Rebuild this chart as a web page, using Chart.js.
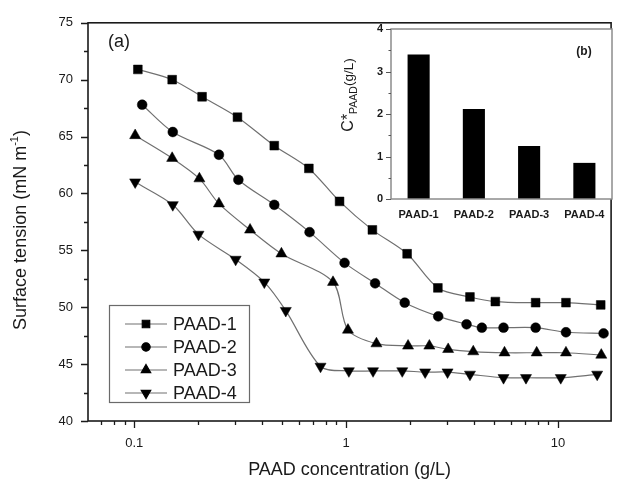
<!DOCTYPE html>
<html><head><meta charset="utf-8">
<script src="https://cdn.jsdelivr.net/npm/chart.js@4/dist/chart.umd.min.js"></script>
<style>
html,body{margin:0;padding:0;background:#fff;}
#wrap{position:relative;width:618px;height:481px;overflow:hidden;}
#main{position:absolute;left:0;top:0;}
#inset{position:absolute;left:330px;top:0;}
</style></head><body>
<div id="wrap"><canvas id="main" width="618" height="481"></canvas><canvas id="inset" width="288" height="240"></canvas></div>
<script>
// ---------- data ----------
const seriesNames = ['PAAD-1', 'PAAD-2', 'PAAD-3', 'PAAD-4'];
const conc1 = [0.104, 0.151, 0.209, 0.307, 0.458, 0.667, 0.931, 1.33, 1.94, 2.71, 3.84, 5.06, 7.84, 10.9, 15.9];
const tension1 = [70.9, 70.0, 68.5, 66.7, 64.2, 62.2, 59.3, 56.8, 54.7, 51.7, 50.9, 50.5, 50.4, 50.4, 50.2];
const conc2 = [0.109, 0.152, 0.251, 0.310, 0.458, 0.672, 0.983, 1.37, 1.89, 2.72, 3.70, 4.37, 5.53, 7.84, 10.9, 16.4];
const tension2 = [67.8, 65.4, 63.4, 61.2, 59.0, 56.6, 53.9, 52.1, 50.4, 49.2, 48.5, 48.2, 48.2, 48.2, 47.8, 47.7];
const conc3 = [0.101, 0.151, 0.203, 0.251, 0.352, 0.495, 0.867, 1.02, 1.39, 1.96, 2.47, 3.03, 3.98, 5.59, 7.93, 10.9, 16.0];
const tension3 = [65.1, 63.1, 61.3, 59.1, 56.8, 54.7, 52.2, 48.0, 46.8, 46.6, 46.6, 46.3, 46.1, 46.0, 46.0, 46.0, 45.8];
const conc4 = [0.101, 0.152, 0.201, 0.301, 0.411, 0.519, 0.757, 1.03, 1.34, 1.84, 2.36, 3.01, 3.84, 5.53, 7.06, 10.3, 15.3];
const tension4 = [61.0, 59.0, 56.4, 54.2, 52.2, 49.7, 44.8, 44.4, 44.4, 44.4, 44.3, 44.3, 44.1, 43.8, 43.8, 43.8, 44.1];

const xMajorTicks = [0.1, 1, 10];
const xMinorTicks = [0.07, 0.08, 0.09, 0.2, 0.3, 0.4, 0.5, 0.6, 0.7, 0.8, 0.9, 2, 3, 4, 5, 6, 7, 8, 9];
const yMajorTicks = [40, 45, 50, 55, 60, 65, 70, 75];
const yMinorTicks = [42.5, 47.5, 52.5, 57.5, 62.5, 67.5, 72.5];

const insetCategories = ['PAAD-1', 'PAAD-2', 'PAAD-3', 'PAAD-4'];
const insetValues = [3.40, 2.12, 1.25, 0.85];
const insetMajorTicks = [0, 1, 2, 3, 4];
const insetMinorTicks = [0.5, 1.5, 2.5, 3.5];

// ---------- styles ----------
const FONT = "'Liberation Sans', Arial, sans-serif";
Chart.defaults.font.family = FONT;
Chart.defaults.color = '#1a1a1a';
Chart.defaults.animation = false;

const styles = [
  {pointStyle: 'rect', radius: 6.2, rotation: 0},
  {pointStyle: 'circle', radius: 4.9, rotation: 0},
  {pointStyle: 'triangle', radius: 6.4, rotation: 0},
  {pointStyle: 'triangle', radius: 6.4, rotation: 180}
];
const concs = [conc1, conc2, conc3, conc4];
const tensions = [tension1, tension2, tension3, tension4];

const datasets = seriesNames.map((name, i) => ({
  label: name,
  data: concs[i].map((c, k) => ({x: c, y: tensions[i][k]})),
  borderColor: '#707070',
  borderWidth: 1.2,
  backgroundColor: '#000',
  pointBackgroundColor: '#000',
  pointBorderColor: '#000',
  pointBorderWidth: 0.5,
  pointStyle: styles[i].pointStyle,
  pointRadius: styles[i].radius,
  pointRotation: styles[i].rotation,
  tension: 0.3,
  fill: false
}));

const mainDecor = {
  id: 'mainDecor',
  afterDraw(chart) {
    const ctx = chart.ctx;
    const a = chart.chartArea;
    const xs = chart.scales.x, ys = chart.scales.y;
    ctx.save();
    // frame
    ctx.strokeStyle = '#1a1a1a';
    ctx.lineWidth = 1.6;
    ctx.strokeRect(a.left, a.top, a.right - a.left, a.bottom - a.top);
    // ticks
    ctx.lineWidth = 1.3;
    ctx.beginPath();
    xMajorTicks.forEach(v => { const p = Math.round(xs.getPixelForValue(v)) + 0.5; ctx.moveTo(p, a.bottom); ctx.lineTo(p, a.bottom + 7); });
    xMinorTicks.forEach(v => { const p = Math.round(xs.getPixelForValue(v)) + 0.5; ctx.moveTo(p, a.bottom); ctx.lineTo(p, a.bottom + 4); });
    yMajorTicks.forEach(v => { const p = Math.round(ys.getPixelForValue(v)) + 0.5; ctx.moveTo(a.left, p); ctx.lineTo(a.left - 7, p); });
    yMinorTicks.forEach(v => { const p = Math.round(ys.getPixelForValue(v)) + 0.5; ctx.moveTo(a.left, p); ctx.lineTo(a.left - 4, p); });
    ctx.stroke();

    // y title with superscript
    ctx.fillStyle = '#1a1a1a';
    ctx.translate(21, 230);
    ctx.rotate(-Math.PI / 2);
    ctx.textBaseline = 'middle';
    ctx.textAlign = 'left';
    const big = '18px ' + FONT, small = '11px ' + FONT;
    const p1 = 'Surface tension (mN m', p2 = '-1', p3 = ')';
    ctx.font = big; const w1 = ctx.measureText(p1).width, w3 = ctx.measureText(p3).width;
    ctx.font = small; const w2 = ctx.measureText(p2).width;
    let x = -(w1 + w2 + w3) / 2;
    ctx.font = big; ctx.fillText(p1, x, 0); x += w1;
    ctx.font = small; ctx.fillText(p2, x, -6); x += w2;
    ctx.font = big; ctx.fillText(p3, x, 0);
    ctx.setTransform(1, 0, 0, 1, 0, 0);

    // (a)
    ctx.font = '18px ' + FONT;
    ctx.textBaseline = 'middle';
    ctx.fillText('(a)', 108, 42);

    // legend
    ctx.strokeStyle = '#6a6a6a';
    ctx.lineWidth = 1.2;
    ctx.strokeRect(109.5, 305.5, 140, 97);
    const rows = [324, 347, 370, 393];
    seriesNames.forEach((name, i) => {
      const y = rows[i];
      ctx.strokeStyle = '#707070';
      ctx.lineWidth = 1.2;
      ctx.beginPath(); ctx.moveTo(125, y); ctx.lineTo(167, y); ctx.stroke();
      ctx.fillStyle = '#000'; ctx.strokeStyle = '#000';
      Chart.helpers.drawPoint(ctx, {pointStyle: styles[i].pointStyle, rotation: styles[i].rotation, radius: styles[i].radius * 0.85, borderWidth: 0.5}, 146, y);
      ctx.fillStyle = '#1a1a1a';
      ctx.font = '18px ' + FONT;
      ctx.textBaseline = 'middle';
      ctx.fillText(name, 173, y + 1);
    });
    ctx.restore();
  }
};

new Chart(document.getElementById('main'), {
  type: 'line',
  data: {datasets},
  plugins: [mainDecor],
  options: {
    responsive: false,
    layout: {padding: {left: 0, right: 1, top: 19, bottom: 0}},
    plugins: {legend: {display: false}, tooltip: {enabled: false}},
    scales: {
      x: {
        type: 'logarithmic',
        min: 0.0605, max: 17.8,
        afterFit: s => { s.height = 60; },
        afterBuildTicks: s => { s.ticks = xMajorTicks.map(v => ({value: v})); },
        grid: {display: false, drawTicks: false},
        border: {display: false},
        ticks: {font: {size: 13}, color: '#1a1a1a', padding: 15, maxRotation: 0, autoSkip: false,
          callback: v => String(v)},
        title: {display: true, text: 'PAAD concentration (g/L)', font: {size: 18}, color: '#1a1a1a', padding: {top: 2, bottom: 0}}
      },
      y: {
        type: 'linear',
        min: 40, max: 75,
        afterFit: s => { s.width = 88; },
        afterBuildTicks: s => { s.ticks = yMajorTicks.map(v => ({value: v})); },
        grid: {display: false, drawTicks: false},
        border: {display: false},
        ticks: {font: {size: 13}, color: '#1a1a1a', padding: 15}
      }
    }
  }
});

// ---------- inset ----------
const insetDecor = {
  id: 'insetDecor',
  beforeDraw(chart) {
    const ctx = chart.ctx, a = chart.chartArea;
    ctx.save();
    ctx.fillStyle = '#fff';
    ctx.fillRect(a.left, a.top, a.right - a.left, a.bottom - a.top);
    ctx.restore();
  },
  afterDraw(chart) {
    const ctx = chart.ctx, a = chart.chartArea, ys = chart.scales.y;
    ctx.save();
    ctx.strokeStyle = '#8c8c8c';
    ctx.lineWidth = 1.5;
    ctx.strokeRect(a.left, a.top, a.right - a.left, a.bottom - a.top);
    ctx.lineWidth = 1;
    ctx.strokeStyle = '#555';
    ctx.beginPath();
    insetMajorTicks.forEach(v => { const p = Math.round(ys.getPixelForValue(v)) + 0.5; ctx.moveTo(a.left, p); ctx.lineTo(a.left - 5, p); });
    insetMinorTicks.forEach(v => { const p = Math.round(ys.getPixelForValue(v)) + 0.5; ctx.moveTo(a.left, p); ctx.lineTo(a.left - 2.5, p); });
    ctx.stroke();
    // (b)
    ctx.fillStyle = '#1a1a1a';
    ctx.font = 'bold 12px ' + FONT;
    ctx.textBaseline = 'middle';
    ctx.textAlign = 'center';
    ctx.fillText('(b)', 584 - 330, 52);
    // y title C*PAAD(g/L)
    ctx.translate(353 - 330, 95);
    ctx.rotate(-Math.PI / 2);
    ctx.textAlign = 'left';
    ctx.textBaseline = 'alphabetic';
    const parts = [['C*', '16px ' + FONT, 0], ['PAAD', '10.5px ' + FONT, 3.5], ['(g/L)', '13.5px ' + FONT, 0]];
    let tot = 0;
    parts.forEach(p => { ctx.font = p[1]; p.push(ctx.measureText(p[0]).width); tot += p[3]; });
    let x = -tot / 2;
    parts.forEach(p => { ctx.font = p[1]; ctx.fillText(p[0], x, p[2]); x += p[3]; });
    ctx.restore();
  }
};

new Chart(document.getElementById('inset'), {
  type: 'bar',
  data: {labels: insetCategories, datasets: [{data: insetValues, backgroundColor: '#000', borderWidth: 0, barPercentage: 0.4, categoryPercentage: 1.0}]},
  plugins: [insetDecor],
  options: {
    responsive: false,
    layout: {padding: {left: 0, right: 6, top: 29, bottom: 0}},
    plugins: {legend: {display: false}, tooltip: {enabled: false}},
    scales: {
      x: {
        afterFit: s => { s.height = 41; },
        grid: {display: false, drawTicks: false},
        border: {display: false},
        ticks: {font: {size: 11, weight: 'bold'}, color: '#1a1a1a', padding: 9, maxRotation: 0, autoSkip: false}
      },
      y: {
        min: 0, max: 4,
        afterFit: s => { s.width = 61; },
        afterBuildTicks: s => { s.ticks = insetMajorTicks.map(v => ({value: v})); },
        grid: {display: false, drawTicks: false},
        border: {display: false},
        ticks: {font: {size: 11, weight: 'bold'}, color: '#1a1a1a', padding: 8}
      }
    }
  }
});
</script>
</body></html>
